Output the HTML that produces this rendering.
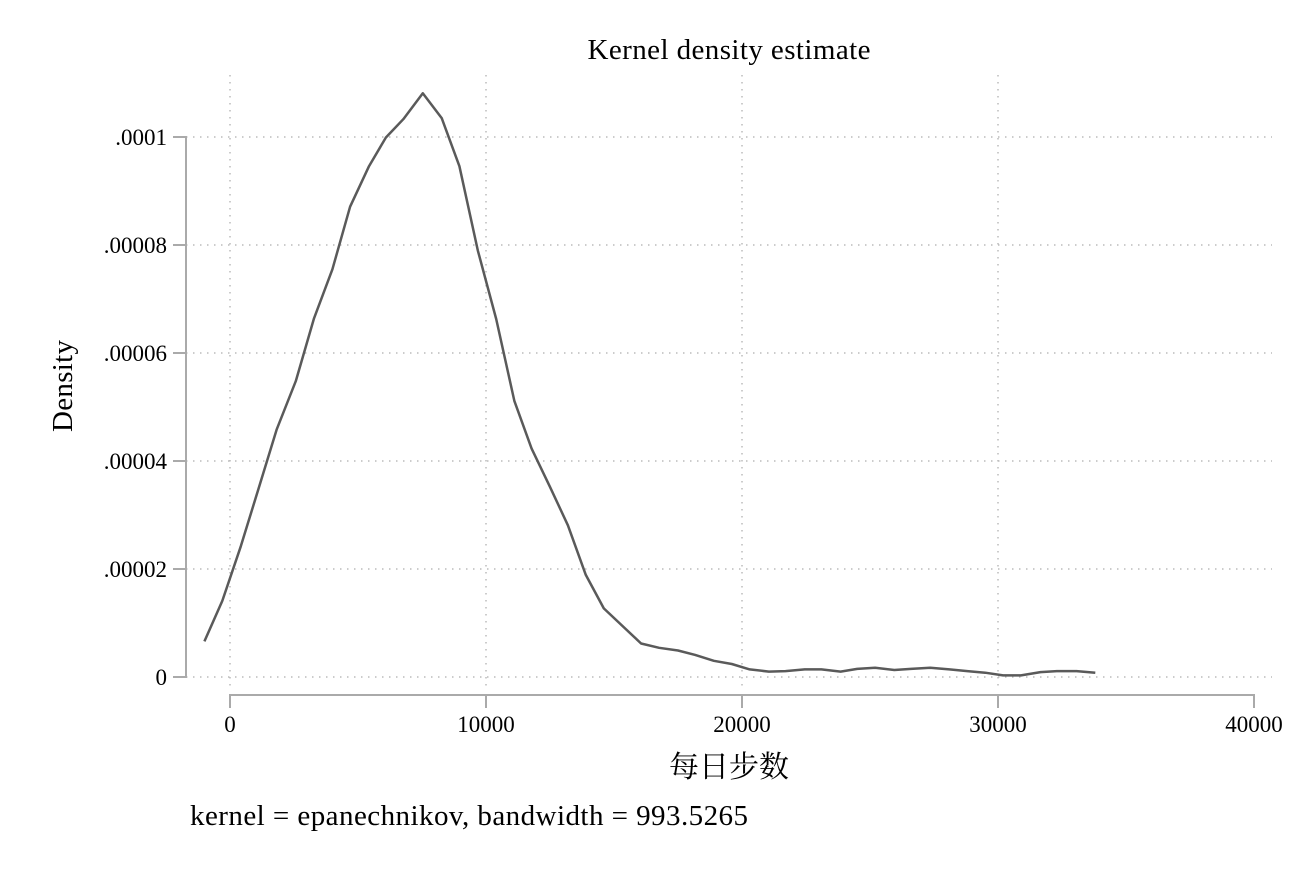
<!DOCTYPE html>
<html><head><meta charset="utf-8"><style>
body{margin:0;background:#fff}
svg text{font-family:"Liberation Serif","Noto Serif CJK SC",serif;fill:#000}
</style></head><body>
<svg id="chart" width="1305" height="870" xmlns="http://www.w3.org/2000/svg">
<text x="729" y="59" font-size="29" text-anchor="middle" textLength="283">Kernel density estimate</text>
<g id="grid"></g><g id="axes"></g><g id="series"></g>
<text transform="translate(72,386) rotate(-90)" font-size="29" text-anchor="middle" textLength="92">Density</text>
<text x="729" y="777" font-size="30" text-anchor="middle">每日步数</text>
<text x="190" y="825" font-size="29" textLength="558">kernel = epanechnikov, bandwidth = 993.5265</text>
</svg>
<script>
const xTicks=[0,10000,20000,30000,40000];
const yTicks=[0,0.00002,0.00004,0.00006,0.00008,0.0001];
const yTickLabels=["0",".00002",".00004",".00006",".00008",".0001"];
const stepsK=[-1.0,-0.3,0.42,1.11,1.82,2.57,3.28,4.0,4.69,5.43,6.09,6.77,7.53,8.27,8.96,9.68,10.4,11.11,11.78,12.5,13.2,13.9,14.6,16.06,16.76,17.5,18.17,18.9,19.6,20.3,21.05,21.7,22.45,23.1,23.85,24.5,25.2,25.95,26.6,27.35,28.1,28.8,29.5,30.2,30.9,31.66,32.3,33.07,33.8];
const densityE5=[0.66,1.41,2.42,3.48,4.58,5.48,6.64,7.55,8.71,9.46,9.99,10.33,10.81,10.35,9.46,7.9,6.63,5.11,4.23,3.52,2.81,1.89,1.27,0.62,0.54,0.49,0.41,0.30,0.24,0.14,0.10,0.11,0.14,0.14,0.10,0.15,0.17,0.13,0.15,0.17,0.14,0.11,0.08,0.03,0.03,0.09,0.11,0.11,0.08];
const NS="http://www.w3.org/2000/svg";
const X=v=>230+v*(1024/40000);
const Y=v=>677-v*(540/0.0001);
function mk(t,a,p){const e=document.createElementNS(NS,t);for(const k in a)e.setAttribute(k,a[k]);p.appendChild(e);return e;}
const grid=document.getElementById('grid'),axes=document.getElementById('axes'),ser=document.getElementById('series');
yTicks.forEach((v,i)=>{
 const g=mk('line',{x1:186,x2:1272,y1:Y(v),y2:Y(v),stroke:'#bbb','stroke-width':1.5,'stroke-dasharray':'1.5 5.5'},grid);
 
 
 const t=mk('line',{x1:173,x2:186,y1:Y(v),y2:Y(v),stroke:'#aaa','stroke-width':2},axes);
 
 
 const l=mk('text',{x:167,y:Y(v)+8,'font-size':23,'text-anchor':'end'},axes);
 l.textContent=yTickLabels[i];
 
 
});
xTicks.forEach(v=>{
 if(v<40000){const g=mk('line',{x1:X(v),x2:X(v),y1:75,y2:686,stroke:'#bbb','stroke-width':1.5,'stroke-dasharray':'1.5 5.5'},grid);
 
 }
 const t=mk('line',{x1:X(v),x2:X(v),y1:695,y2:708,stroke:'#aaa','stroke-width':2},axes);
 
 
 const l=mk('text',{x:X(v),y:732,'font-size':23,'text-anchor':'middle'},axes);
 l.textContent=String(v);
 
 
});
const ya=mk('line',{x1:186,x2:186,y1:Y(0.0001)-1,y2:Y(0)+1,stroke:'#aaa','stroke-width':2},axes);


const xa=mk('line',{x1:X(0)-1,x2:X(40000)+1,y1:695,y2:695,stroke:'#aaa','stroke-width':2},axes);


const pts=stepsK.map((s,i)=>X(s*1000).toFixed(1)+','+Y(densityE5[i]*1e-5).toFixed(1)).join(' ');
const pl=mk('polyline',{points:pts,fill:'none',stroke:'#5a5a5a','stroke-width':2.5,'stroke-linejoin':'round'},ser);


</script>
</body></html>
